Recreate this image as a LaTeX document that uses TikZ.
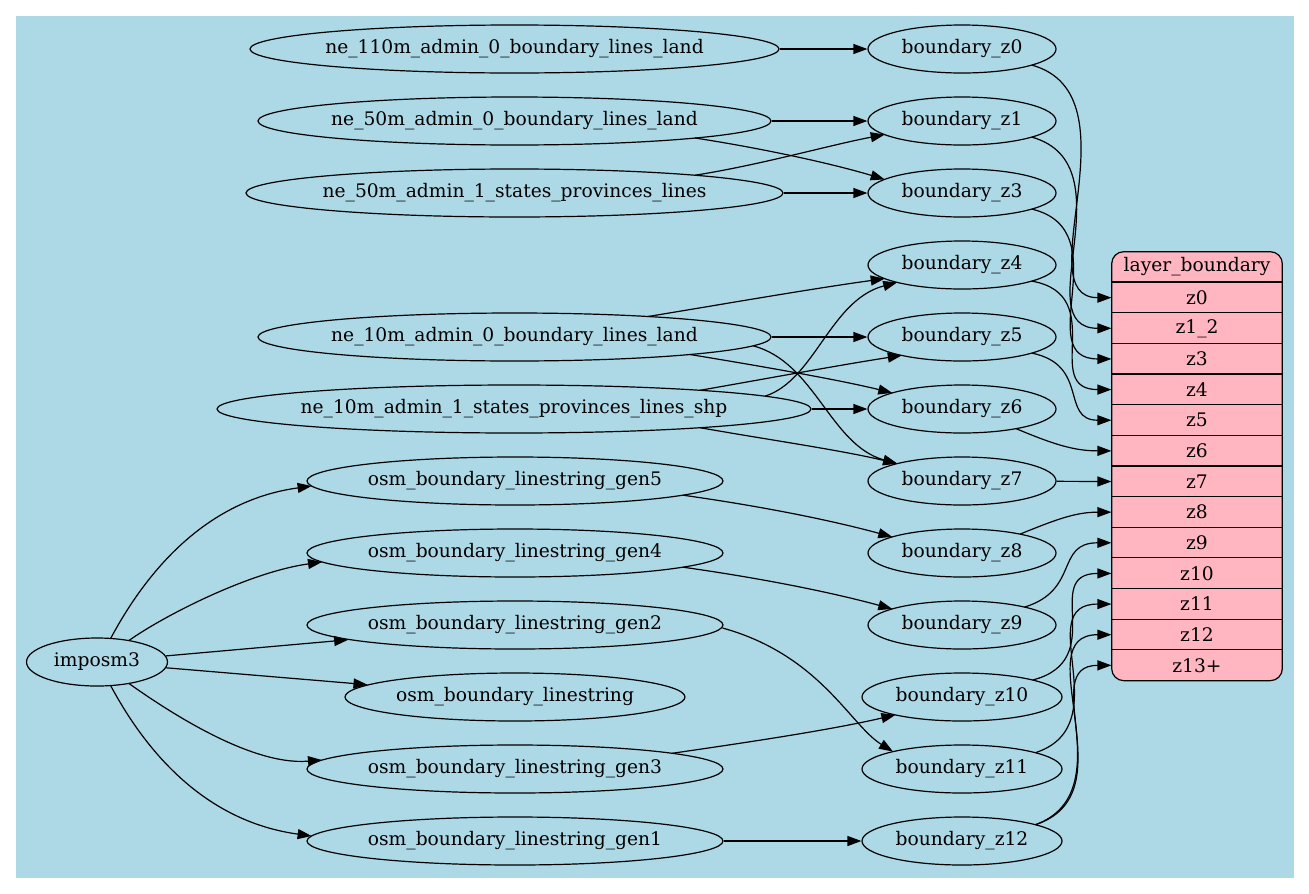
\documentclass[tikz,border=0pt]{standalone}
\usepackage{fontspec}
\setmainfont{DejaVu Serif}
\usetikzlibrary{shapes.geometric,arrows.meta}
\newlength\pxu \setlength\pxu{0.75pt}
\newcommand\mk[1]{\makebox[0pt]{#1}}
\definecolor{bgblue}{HTML}{ADD8E6}
\definecolor{recpink}{HTML}{FFB6C1}
\begin{document}
\begin{tikzpicture}[x=0.75pt,y=-0.75pt,
  font=\fontsize{14}{16}\selectfont,
  ell/.style={draw, ellipse, inner sep=0pt, minimum height=48\pxu, line width=0.9pt},
  ew/.style={minimum width=#1\pxu},
  fld/.style={rectangle, inner sep=0pt, minimum width=170.6\pxu, minimum height=30.64\pxu},
  div/.style={line width=0.9pt},
  e/.style={draw, line width=0.9pt, -{Triangle[length=10.5pt,width=7.5pt]}}]
\useasboundingbox (0,0) rectangle (1309,893);
\fill[bgblue] (15.5,15.5) rectangle (1293.5,877.5);

% record
\node[draw, fill=recpink, rounded corners=12\pxu, line width=0.9pt, inner sep=0pt,
      minimum width=170.6\pxu, minimum height=428.96\pxu] (rec) at (1197,466.18) {};
\node[fld] (hd)  at (1197,267.02) {layer\_boundary};
\node[fld] (f0)  at (1197,297.66) {z0};
\node[fld] (f1)  at (1197,328.30) {z1\_2};
\node[fld] (f3)  at (1197,358.94) {z3};
\node[fld] (f4)  at (1197,389.58) {z4};
\node[fld] (f5)  at (1197,420.22) {z5};
\node[fld] (f6)  at (1197,450.86) {z6};
\node[fld] (f7)  at (1197,481.50) {z7};
\node[fld] (f8)  at (1197,512.14) {z8};
\node[fld] (f9)  at (1197,542.78) {z9};
\node[fld] (f10) at (1197,573.42) {z10};
\node[fld] (f11) at (1197,604.06) {z11};
\node[fld] (f12) at (1197,634.70) {z12};
\node[fld] (f13) at (1197,665.34) {z13+};
\foreach \f in {f0,f1,f3,f4,f5,f6,f7,f8,f9,f10,f11,f12,f13}
  \draw[div] (\f.north west) -- (\f.north east);

% left column
\node[ell, ew=529] (ne110)  at (514.5,49)  {\mk{ne\_110m\_admin\_0\_boundary\_lines\_land}};
\node[ell, ew=513] (ne50a)  at (514.5,121) {\mk{ne\_50m\_admin\_0\_boundary\_lines\_land}};
\node[ell, ew=537] (ne50b)  at (514.5,193) {\mk{ne\_50m\_admin\_1\_states\_provinces\_lines}};
\node[ell, ew=513] (ne10a)  at (514.5,337) {\mk{ne\_10m\_admin\_0\_boundary\_lines\_land}};
\node[ell, ew=594] (ne10b)  at (514,409)   {\mk{ne\_10m\_admin\_1\_states\_provinces\_lines\_shp}};
\node[ell, ew=416] (gen5)   at (515,481)   {\mk{osm\_boundary\_linestring\_gen5}};
\node[ell, ew=416] (gen4)   at (515,553)   {\mk{osm\_boundary\_linestring\_gen4}};
\node[ell, ew=416] (gen2)   at (515,625)   {\mk{osm\_boundary\_linestring\_gen2}};
\node[ell, ew=340] (osmbl)  at (515,697)   {\mk{osm\_boundary\_linestring}};
\node[ell, ew=416] (gen3)   at (515,769)   {\mk{osm\_boundary\_linestring\_gen3}};
\node[ell, ew=416] (gen1)   at (515,841)   {\mk{osm\_boundary\_linestring\_gen1}};
\node[ell, ew=141] (imposm)  at (97,662)   {\mk{imposm3}};

% right column
\node[ell, ew=188] (z0)  at (962,49)  {\mk{boundary\_z0}};
\node[ell, ew=188] (z1)  at (962,121) {\mk{boundary\_z1}};
\node[ell, ew=188] (z3)  at (962,193) {\mk{boundary\_z3}};
\node[ell, ew=188] (z4)  at (962,265) {\mk{boundary\_z4}};
\node[ell, ew=188] (z5)  at (962,337) {\mk{boundary\_z5}};
\node[ell, ew=188] (z6)  at (962,409) {\mk{boundary\_z6}};
\node[ell, ew=188] (z7)  at (962,481) {\mk{boundary\_z7}};
\node[ell, ew=188] (z8)  at (962,553) {\mk{boundary\_z8}};
\node[ell, ew=188] (z9)  at (962,625) {\mk{boundary\_z9}};
\node[ell, ew=200] (z10) at (962,697) {\mk{boundary\_z10}};
\node[ell, ew=200] (z11) at (962,769) {\mk{boundary\_z11}};
\node[ell, ew=200] (z12) at (962,841) {\mk{boundary\_z12}};

% imposm3 edges
\draw[e] ([shift={(13.6,-23.5)}]imposm.center) .. controls (150,565) and (210,500) .. ([shift={(-203.4,5)}]gen5.center);
\draw[e] ([shift={(31.8,-21.4)}]imposm.center) .. controls (165,615) and (250,572) .. ([shift={(-193,9)}]gen4.center);
\draw[e] (imposm) -- (gen2);
\draw[e] (imposm) -- (osmbl);
\draw[e] ([shift={(31.8,21.4)}]imposm.center) .. controls (165,709) and (250,766) .. ([shift={(-193,-9)}]gen3.center);
\draw[e] ([shift={(13.6,23.5)}]imposm.center) .. controls (150,759) and (210,822) .. ([shift={(-203.4,-5)}]gen1.center);

% sources to boundary nodes
\draw[e] (ne110) -- (z0);
\draw[e] (ne50a) -- (z1);
\draw[e] ([shift={(180.5,17)}]ne50a.center) .. controls (760,148) and (830,163) .. ([shift={(-77.3,-13.6)}]z3.center);
\draw[e] ([shift={(180.5,-17.8)}]ne50b.center) .. controls (760,165) and (830,145) .. ([shift={(-77.3,13.6)}]z1.center);
\draw[e] (ne50b) -- (z3);
\draw[e] ([shift={(133.5,-20.5)}]ne10a.center) .. controls (730,303) and (810,289) .. ([shift={(-77.3,13.6)}]z4.center);
\draw[e] (ne10a) -- (z5);
\draw[e] ([shift={(175.5,17.5)}]ne10a.center) .. controls (760,366) and (840,380) .. ([shift={(-69.7,-16.1)}]z6.center);
\draw[e] ([shift={(238.5,8.8)}]ne10a.center) .. controls (815,362) and (830,445) .. ([shift={(-64.8,-17.4)}]z7.center);
\draw[e] ([shift={(251,-12.8)}]ne10b.center) .. controls (815,380) and (830,300) .. ([shift={(-64.8,17.4)}]z4.center);
\draw[e] ([shift={(186,-18.7)}]ne10b.center) .. controls (770,378) and (840,365) .. ([shift={(-60.2,18.4)}]z5.center);
\draw[e] (ne10b) -- (z6);
\draw[e] ([shift={(186,18.7)}]ne10b.center) .. controls (770,440) and (840,450) .. ([shift={(-64.8,-17.4)}]z7.center);
\draw[e] ([shift={(168,14.2)}]gen5.center) .. controls (760,506) and (830,520) .. ([shift={(-69.7,-16.1)}]z8.center);
\draw[e] ([shift={(168,14.2)}]gen4.center) .. controls (760,578) and (830,592) .. ([shift={(-69.7,-16.1)}]z9.center);
\draw[e] ([shift={(207.5,3)}]gen2.center) .. controls (820,655) and (850,725) .. ([shift={(-69,-17.4)}]z11.center);
\draw[e] ([shift={(157,-15.7)}]gen3.center) .. controls (750,742) and (830,730) .. ([shift={(-66.6,17.9)}]z10.center);
\draw[e] (gen1) -- (z12);

% boundary nodes to record fields
\draw[e] ([shift={(69.8,16.1)}]z0.center) .. controls (1140,95) and (1025,297.66) .. (f0.west);
\draw[e] ([shift={(69.8,16.1)}]z1.center) .. controls (1130,165) and (1025,328.30) .. (f1.west);
\draw[e] ([shift={(69.8,16.1)}]z3.center) .. controls (1120,230) and (1030,358.94) .. (f3.west);
\draw[e] ([shift={(69.8,16.1)}]z4.center) .. controls (1110,295) and (1040,389.58) .. (f4.west);
\draw[e] ([shift={(69.8,16.1)}]z5.center) .. controls (1090,365) and (1060,420.22) .. (f5.west);
\draw[e] ([shift={(54,19.6)}]z6.center) .. controls (1055,445) and (1075,450.86) .. (f6.west);
\draw[e] (z7) -- (f7.west);
\draw[e] ([shift={(58,-18.9)}]z8.center) .. controls (1055,520) and (1075,512.14) .. (f8.west);
\draw[e] ([shift={(62.5,-17.9)}]z9.center) .. controls (1080,590) and (1055,542.78) .. (f9.west);
\draw[e] ([shift={(70.7,-17)}]z10.center) .. controls (1110,660) and (1040,573.42) .. (f10.west);
\draw[e] ([shift={(73.4,-16.3)}]z11.center) .. controls (1120,725) and (1030,604.06) .. (f11.west);
\draw[e] ([shift={(73.4,-16.3)}]z12.center) .. controls (1130,790) and (1025,634.70) .. (f12.west);
\draw[e] ([shift={(73.4,-16.3)}]z12.center) .. controls (1125,795) and (1035,665.34) .. (f13.west);
\end{tikzpicture}
\end{document}
